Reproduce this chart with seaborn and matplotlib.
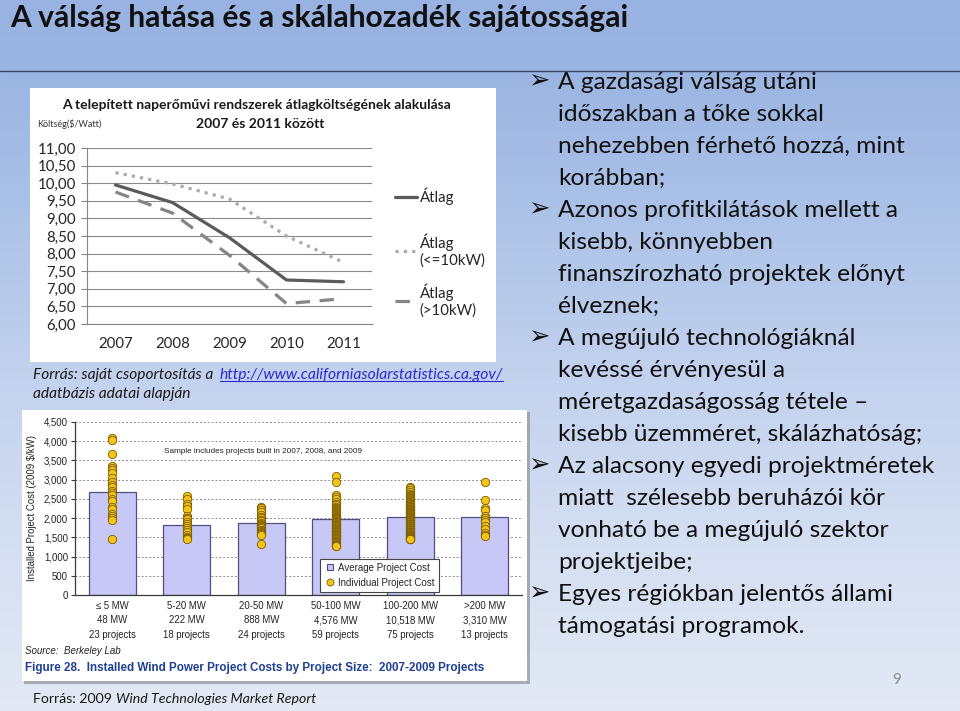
import numpy as np
import pandas as pd
import matplotlib
matplotlib.use("Agg")
import matplotlib.pyplot as plt
import seaborn as sns
import matplotlib.colors as mcolors
from matplotlib.patches import Rectangle
from matplotlib.lines import Line2D
from matplotlib.ticker import FuncFormatter, MultipleLocator
from matplotlib import font_manager

# ---------------- data ----------------
slide_title = "A válság hatása és a skálahozadék sajátosságai"

years = [2007, 2008, 2009, 2010, 2011]
cost_avg = [9.95, 9.45, 8.45, 7.25, 7.20]
cost_small = [10.30, 9.98, 9.55, 8.50, 7.75]
cost_large = [9.75, 9.15, 7.95, 6.58, 6.72]
series_names = ["Átlag", "Átlag\n(<=10kW)", "Átlag\n(>10kW)"]
line_title_1 = "A telepített naperőművi rendszerek átlagköltségének alakulása"
line_title_2 = "2007 és 2011 között"
line_ylabel = "Költség($/Watt)"

size_classes = ["≤ 5 MW", "5-20 MW", "20-50 MW", "50-100 MW", "100-200 MW", ">200 MW"]
size_capacity = ["48 MW", "222 MW", "888 MW", "4,576 MW", "10,518 MW", "3,310 MW"]
size_projects = ["23 projects", "18 projects", "24 projects", "59 projects", "75 projects", "13 projects"]
avg_project_cost = [2680, 1820, 1880, 1970, 2030, 2030]

proj_le5 = [4080, 4020, 3680, 3350, 3300, 3250, 3180, 3050, 2950, 2850, 2800, 2700,
            2650, 2600, 2500, 2450, 2300, 2250, 2100, 2050, 2000, 1950, 1450]
proj_5_20 = [2580, 2500, 2380, 2320, 2250, 2050, 2000, 1980, 1900, 1850, 1800, 1750,
             1700, 1650, 1550, 1500, 1480, 1460]
proj_20_50 = [2300, 2260, 2200, 2150, 2080, 2020, 1990, 1960, 1920, 1880, 1850, 1820,
              1790, 1760, 1730, 1700, 1680, 1660, 1640, 1620, 1600, 1580, 1560, 1330]
proj_50_100 = [3100, 2950, 2590, 2560, 2500, 2430, 2380, 2340, 2300, 2270,
               2240, 2210, 2180, 2150, 2120, 2100, 2080, 2050, 2030, 2010,
               1990, 1970, 1950, 1930, 1910, 1890, 1870, 1850, 1830, 1810,
               1790, 1770, 1750, 1740, 1720, 1700, 1680, 1660, 1650, 1630,
               1610, 1590, 1570, 1550, 1530, 1510, 1490, 1470, 1450, 1430,
               1410, 1390, 1370, 1350, 1330, 1310, 1290, 1280, 1270]
proj_100_200 = [2820, 2780, 2720, 2680, 2640, 2610, 2580, 2550, 2520, 2500,
                2470, 2450, 2430, 2400, 2380, 2360, 2340, 2320, 2300, 2290,
                2270, 2250, 2240, 2220, 2200, 2190, 2170, 2150, 2140, 2120,
                2100, 2090, 2070, 2050, 2040, 2020, 2000, 1990, 1970, 1950,
                1940, 1920, 1900, 1890, 1870, 1850, 1840, 1820, 1800, 1790,
                1770, 1750, 1740, 1720, 1700, 1690, 1670, 1650, 1640, 1620,
                1600, 1590, 1570, 1560, 1540, 1530, 1510, 1500, 1490, 1480,
                1470, 1460, 1455, 1450, 1445]
proj_gt200 = [2950, 2480, 2260, 2200, 2060, 2000, 1960, 1900, 1800, 1720, 1620, 1560, 1530]
individual_costs = [proj_le5, proj_5_20, proj_20_50, proj_50_100, proj_100_200, proj_gt200]

wind_sample_note = "Sample includes projects built in 2007, 2008, and 2009"
wind_ylabel = "Installed Project Cost (2009 $/kW)"
wind_legend = ["Average Project Cost", "Individual Project Cost"]
wind_source = "Source:  Berkeley Lab"
wind_caption = "Figure 28.  Installed Wind Power Project Costs by Project Size:  2007-2009 Projects"

bullets = [
    (True, "A gazdasági válság utáni"),
    (False, "időszakban a tőke sokkal"),
    (False, "nehezebben férhető hozzá, mint"),
    (False, "korábban;"),
    (True, "Azonos profitkilátások mellett a"),
    (False, "kisebb, könnyebben"),
    (False, "finanszírozható projektek előnyt"),
    (False, "élveznek;"),
    (True, "A megújuló technológiáknál"),
    (False, "kevéssé érvényesül a"),
    (False, "méretgazdaságosság tétele –"),
    (False, "kisebb üzemméret, skálázhatóság;"),
    (True, "Az alacsony egyedi projektméretek"),
    (False, "miatt  szélesebb beruházói kör"),
    (False, "vonható be a megújuló szektor"),
    (False, "projektjeibe;"),
    (True, "Egyes régiókban jelentős állami"),
    (False, "támogatási programok."),
]

# ---------------- style ----------------
avail = {f.name for f in font_manager.fontManager.ttflist}
MAIN = "Lato" if "Lato" in avail else "DejaVu Sans"
NARROW = "Liberation Sans Narrow" if "Liberation Sans Narrow" in avail else "Liberation Sans"
sns.set_theme(style="white")
plt.rcParams["font.family"] = [MAIN, "DejaVu Sans"]
plt.rcParams["axes.unicode_minus"] = False

W, H = 960, 711
fig = plt.figure(figsize=(W / 100, H / 100), dpi=100)
renderer = fig.canvas.get_renderer()


def fx(x):
    return x / W


def fy(y):
    return 1 - y / H


def px_rect(x0, y0, x1, y1):
    return [x0 / W, 1 - y1 / H, (x1 - x0) / W, (y1 - y0) / H]


def fit_width(t, width):
    bb = t.get_window_extent(renderer)
    t.set_fontsize(t.get_fontsize() * width / bb.width)
    return t


# background gradient
ax_bg = fig.add_axes([0, 0, 1, 1], zorder=-10)
stops_y = [0, 70, 200, 380, 560, 711]
stops_c = ["#98b3e1", "#9bb5e2", "#aac1e7", "#c3d2ee", "#d6e0f2", "#e3e9f5"]
rgb = np.array([mcolors.to_rgb(c) for c in stops_c])
yy = np.arange(H)
grad = np.stack([np.interp(yy, stops_y, rgb[:, k]) for k in range(3)], axis=1)[:, None, :]
ax_bg.imshow(grad, aspect="auto", extent=[0, 1, 0, 1], origin="upper")
ax_bg.set_axis_off()

fig.add_artist(Line2D([0, 1], [fy(71), fy(71)], transform=fig.transFigure,
                      color="#33456a", lw=1.0, zorder=-4))

# white panels
fig.add_artist(Rectangle((fx(30), fy(362)), 466 / W, 274 / H, transform=fig.transFigure,
                         facecolor="white", edgecolor="none", zorder=-5))
fig.add_artist(Rectangle((fx(24), fy(684)), 506 / W, 272 / H, transform=fig.transFigure,
                         facecolor="#8d939e", edgecolor="none", zorder=-6, alpha=0.7))
fig.add_artist(Rectangle((fx(22), fy(681)), 505 / W, 271 / H, transform=fig.transFigure,
                         facecolor="white", edgecolor="none", zorder=-5))

# slide title
t = fig.text(fx(10), fy(27), slide_title, fontsize=22, fontweight="bold",
             ha="left", va="baseline", color="#111111")
fit_width(t, 615)

# ---------------- line chart ----------------
ax1 = fig.add_axes(px_rect(87, 148, 372, 324))
ax1.patch.set_visible(False)
df_line = pd.DataFrame({
    "Év": years * 3,
    "Költség": cost_avg + cost_small + cost_large,
    "Sorozat": [series_names[0]] * 5 + [series_names[1]] * 5 + [series_names[2]] * 5,
})
sns.lineplot(data=df_line, x="Év", y="Költség", hue="Sorozat", style="Sorozat",
             palette=dict(zip(series_names, ["#5b5b5b", "#ababab", "#858585"])),
             dashes=dict(zip(series_names, ["", (1.0, 1.6), (4.5, 3.0)])),
             linewidth=2.3, legend=False, errorbar=None, ax=ax1, zorder=3)
ax1.set_xlim(2006.5, 2011.5)
ax1.set_ylim(6, 11)
ax1.yaxis.set_major_locator(MultipleLocator(0.5))
ax1.yaxis.set_major_formatter(FuncFormatter(lambda v, _: f"{v:.2f}".replace(".", ",")))
ax1.set_xticks(years)
ax1.set_xticks([2006.5, 2007.5, 2008.5, 2009.5, 2010.5, 2011.5], minor=True)
ax1.tick_params(axis="x", which="major", length=0, pad=9, labelsize=10.8, colors="#262626")
ax1.tick_params(axis="x", which="minor", length=4, width=0.8, color="#868686", direction="out")
ax1.tick_params(axis="y", which="major", length=4, width=0.8, color="#868686", pad=4,
                labelsize=10.8, labelcolor="#262626", left=True)
ax1.yaxis.grid(True, color="#8a8a8a", lw=0.8)
ax1.xaxis.grid(False)
for s in ["top", "right"]:
    ax1.spines[s].set_visible(False)
for s in ["left", "bottom"]:
    ax1.spines[s].set_color("#868686")
    ax1.spines[s].set_linewidth(0.8)
ax1.set_xlabel("")
ax1.set_ylabel("")

# one legend box per series so that the entries sit at the reference heights
line_handles = ax1.get_lines()[:3]
legend_centres_px = [196, 251, 301]
for k, (h, lab, yc) in enumerate(zip(line_handles, series_names, legend_centres_px)):
    lg = ax1.legend(handles=[h], labels=[lab], loc="center left",
                    bbox_to_anchor=((395 - 87) / 285, (324 - yc) / 176), frameon=False,
                    fontsize=10.8, handlelength=1.45, handletextpad=0.2, borderaxespad=0,
                    borderpad=0, labelcolor="#262626")
    if k < 2:
        ax1.add_artist(lg)

t = fig.text(fx(256), fy(105), line_title_1, fontsize=10, fontweight="bold",
             ha="center", va="center", color="#1a1a1a")
fit_width(t, 387)
fig.text(fx(260), fy(124), line_title_2, fontsize=t.get_fontsize(), fontweight="bold",
         ha="center", va="center", color="#1a1a1a")
fig.text(fx(37), fy(124), line_ylabel, fontsize=6.5, ha="left", va="center", color="#333333")

# source lines for the line chart
t = fig.text(fx(33), fy(379), "Forrás: saját csoportosítás a", fontsize=11, style="italic",
             ha="left", va="baseline", color="#1a1a1a")
fit_width(t, 180)
tl = fig.text(fx(220), fy(379), "http://www.californiasolarstatistics.ca.gov/", fontsize=11,
              style="italic", ha="left", va="baseline", color="#2a2ad0")
fit_width(tl, 283)
bb = tl.get_window_extent(renderer)
fig.add_artist(Line2D([bb.x0 / W, bb.x1 / W], [(fy(379) * H - 2) / H] * 2,
                      transform=fig.transFigure, color="#2a2ad0", lw=0.8))
fig.text(fx(33), fy(398), "adatbázis adatai alapján", fontsize=t.get_fontsize(), style="italic",
         ha="left", va="baseline", color="#1a1a1a")

# ---------------- wind chart ----------------
ax2 = fig.add_axes(px_rect(75, 422, 522, 595))
ax2.patch.set_visible(False)
sns.barplot(x=size_classes, y=avg_project_cost, order=size_classes, color="#c8c8f6",
            saturation=1, width=0.63, edgecolor="#4f4f82", linewidth=0.9, ax=ax2, zorder=2)
df_pts = pd.DataFrame({
    "size": [c for c, vals in zip(size_classes, individual_costs) for _ in vals],
    "cost": [v for vals in individual_costs for v in vals],
})
sns.stripplot(data=df_pts, x="size", y="cost", order=size_classes, jitter=False,
              color="#f6c419", edgecolor="#7a5b00", linewidth=0.6, size=6, ax=ax2, zorder=3)
ax2.set_xlim(-0.5, 5.5)
ax2.set_ylim(0, 4500)
ax2.yaxis.set_major_locator(MultipleLocator(500))
ax2.yaxis.set_major_formatter(FuncFormatter(lambda v, _: f"{int(v):,}"))
ax2.set_xticks(range(len(size_classes)))
ax2.set_xticklabels([f"{a}\n{b}\n{c}" for a, b, c in zip(size_classes, size_capacity, size_projects)],
                    linespacing=1.6, fontsize=6.9, family=[NARROW, "DejaVu Sans"], color="#222222")
ax2.set_xticks([i - 0.5 for i in range(len(size_classes) + 1)], minor=True)
ax2.tick_params(axis="x", which="major", length=0, pad=4)
ax2.tick_params(axis="x", which="minor", length=31, width=0.9, color="#3a3a3a", direction="out")
ax2.tick_params(axis="y", which="major", length=3, width=0.8, color="#3a3a3a", pad=2,
                labelsize=6.9, labelcolor="#222222", left=True)
for lab in ax2.get_yticklabels():
    lab.set_fontfamily([NARROW, "DejaVu Sans"])
ax2.yaxis.grid(True, color="#8c8c8c", linestyle=(0, (2, 2)), lw=0.7)
ax2.xaxis.grid(False)
ax2.set_axisbelow(True)
for s in ["top", "right"]:
    ax2.spines[s].set_visible(False)
for s in ["left", "bottom"]:
    ax2.spines[s].set_color("#3a3a3a")
    ax2.spines[s].set_linewidth(0.9)
ax2.set_xlabel("")
ax2.set_ylabel(wind_ylabel, fontsize=6.9, family=[NARROW, "DejaVu Sans"], color="#222222")
ax2.yaxis.set_label_coords((37 - 75) / 447, (595 - 508) / 173)
t = ax2.text((164 - 75) / 447, 3720, wind_sample_note, transform=ax2.get_yaxis_transform(),
             fontsize=7, family=[NARROW, "DejaVu Sans"], ha="left", va="center", color="#222222")
fit_width(t, 198)
h_bar = Line2D([], [], marker="s", ls="", mfc="#c8c8f6", mec="#4f4f82", mew=0.8, ms=4.5)
h_pt = Line2D([], [], marker="o", ls="", mfc="#f6c419", mec="#7a5b00", mew=0.6, ms=5)
leg = ax2.legend(handles=[h_bar, h_pt], labels=wind_legend, loc="upper left",
                 bbox_to_anchor=((320 - 75) / 447, (595 - 559) / 173), borderaxespad=0,
                 frameon=True, fancybox=False, edgecolor="#444444", framealpha=1,
                 prop={"family": [NARROW, "DejaVu Sans"], "size": 7}, handletextpad=0.3,
                 labelspacing=0.5, borderpad=0.4, handlelength=1.2)
leg.get_frame().set_linewidth(0.8)
leg.set_zorder(5)

fig.text(fx(25), fy(651), wind_source, fontsize=7, style="italic",
         family=[NARROW, "DejaVu Sans"], ha="left", va="center", color="#222222")
t = fig.text(fx(25), fy(668), wind_caption, fontsize=9, fontweight="bold",
             family=[NARROW, "DejaVu Sans"], ha="left", va="center", color="#1f3f94")
fit_width(t, 458)

# source line for the wind chart
t2 = fig.text(fx(111), fy(703), "Wind Technologies Market Report", fontsize=11, style="italic",
              ha="left", va="baseline", color="#1a1a1a")
fit_width(t2, 200)
t1 = fig.text(fx(33), fy(703), "Forrás: 2009", fontsize=t2.get_fontsize(), ha="left",
              va="baseline", color="#1a1a1a")
bb1 = t1.get_window_extent(renderer)
t2.set_x((bb1.x1 + 0.3 * t2.get_fontsize() * 100 / 72) / W)

# ---------------- bullet text ----------------
ref = fig.text(0, 0, "Az alacsony egyedi projektméretek", fontsize=17)
fit_width(ref, 375)
bsize = ref.get_fontsize()
ref.remove()
for i, (is_bullet, line) in enumerate(bullets):
    yb = 89 + 32 * i
    if is_bullet:
        fig.text(fx(528), fy(yb - 1), "➢", fontsize=bsize * 1.05, family="DejaVu Sans",
                 ha="left", va="baseline", color="#111111")
    fig.text(fx(558), fy(yb), line, fontsize=bsize, ha="left", va="baseline", color="#111111")

fig.text(fx(897), fy(684), "9", fontsize=11, ha="center", va="baseline", color="#8c8c8c")

fig.savefig("out.png", dpi=100)
